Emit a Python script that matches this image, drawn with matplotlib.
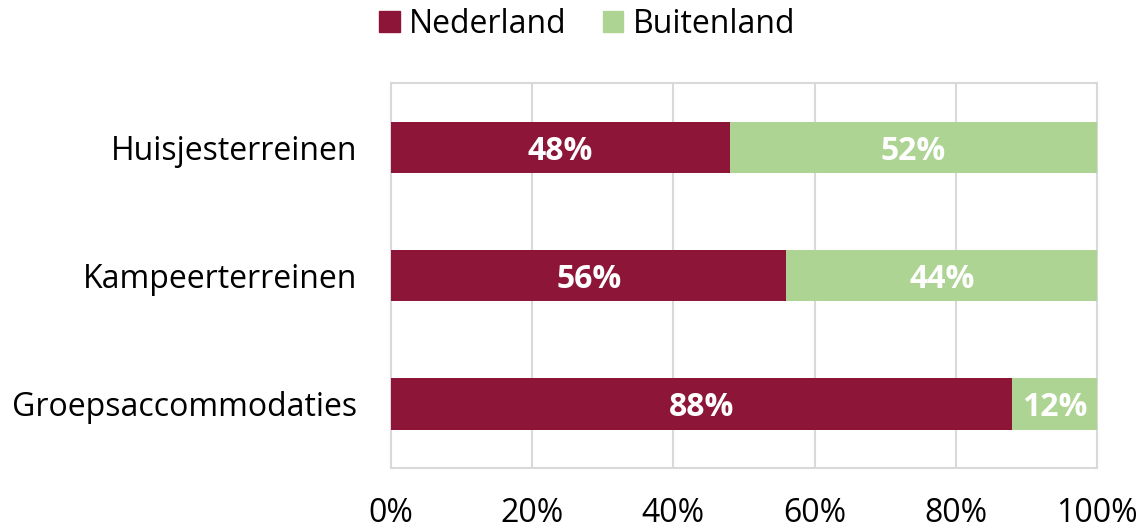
import matplotlib.pyplot as plt
from matplotlib.patches import Patch

categories = ["Huisjesterreinen", "Kampeerterreinen", "Groepsaccommodaties"]
nederland = [48, 56, 88]
buitenland = [52, 44, 12]
series_names = ["Nederland", "Buitenland"]
colors = ["#8C1538", "#AED494"]

plt.rcParams['font.family'] = ['Open Sans', 'DejaVu Sans']

fig = plt.figure(figsize=(11.43, 5.29), dpi=100)
ax = fig.add_axes([0.342, 0.1153, 0.6178, 0.7277])

y = list(range(len(categories)))
ax.barh(y, nederland, height=0.4, color=colors[0], zorder=3)
ax.barh(y, buitenland, left=nederland, height=0.4, color=colors[1], zorder=3)

# value labels inside the bars
for i in y:
    ax.text(nederland[i] / 2, i, f"{nederland[i]}%", ha='center', va='center_baseline',
            color='white', fontsize=23, fontweight='bold', zorder=4)
    ax.text(nederland[i] + buitenland[i] / 2, i, f"{buitenland[i]}%", ha='center',
            va='center_baseline', color='white', fontsize=23, fontweight='bold', zorder=4)

ax.set_xlim(0, 100)
ax.set_ylim(2.5, -0.5)
ax.set_yticks(y)
ax.set_yticklabels(categories, fontsize=23)
ax.set_xticks(range(0, 101, 20))
ax.set_xticklabels([f"{v}%" for v in range(0, 101, 20)], fontsize=23)
ax.tick_params(length=0)
ax.tick_params(axis='y', pad=24)
ax.tick_params(axis='x', pad=21)
ax.grid(axis='x', color='#d9d9d9', linewidth=1.5, zorder=0)
for s in ax.spines.values():
    s.set_color('#d9d9d9')
    s.set_linewidth(1.5)

handles = [Patch(color=c) for c in colors]
fig.legend(handles, series_names, loc='upper center', bbox_to_anchor=(0.5137, 1.04),
           ncol=2, frameon=False, fontsize=23, handlelength=0.65, handleheight=0.65,
           handletextpad=0.3, columnspacing=1.12)

fig.savefig("out.png", dpi=100)
